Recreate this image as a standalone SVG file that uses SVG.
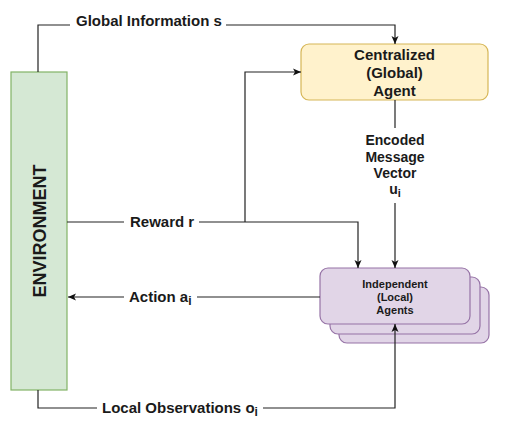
<svg xmlns="http://www.w3.org/2000/svg" width="508" height="423" viewBox="0 0 508 423">
<style>
.ln{fill:none;stroke:#222;stroke-width:1.2}
.t{font-family:"Liberation Sans",Arial,sans-serif;font-weight:bold;fill:#1a1a1a}
.lbl{font-size:15px}
.sm{font-size:14px;text-anchor:middle}
.xs{font-size:11px;text-anchor:middle}
.ag{fill:#e1d5e7;stroke:#9673a6;stroke-width:1.2}
</style>
<defs>
<marker id="ar" markerUnits="userSpaceOnUse" markerWidth="10" markerHeight="10" refX="8" refY="4" orient="auto">
<path d="M0,0.5 L8,4 L0,7.5 L2,4 Z" fill="#111"/>
</marker>
</defs>
<rect width="508" height="423" fill="#fff"/>
<g id="environment">
<rect x="11" y="72" width="56" height="318" fill="#d5e8d4" stroke="#82b366" stroke-width="1.2"/>
<text class="t" x="0" y="0" font-size="18" text-anchor="middle" transform="translate(45.5,231) rotate(-90)">ENVIRONMENT</text>
</g>
<g id="centralized">
<rect x="301" y="44" width="187" height="56" rx="8" fill="#fff2cc" stroke="#d6b656" stroke-width="1.2"/>
<text class="t" font-size="15" text-anchor="middle" x="394.5" y="60">Centralized</text>
<text class="t" font-size="15" text-anchor="middle" x="394.5" y="78">(Global)</text>
<text class="t" font-size="15" text-anchor="middle" x="394.5" y="96">Agent</text>
</g>
<g id="independent">
<rect class="ag" x="339" y="287" width="150" height="56" rx="8"/>
<rect class="ag" x="330" y="277" width="150" height="57" rx="8"/>
<rect class="ag" x="320" y="268" width="150" height="56" rx="8"/>
<text class="t xs" x="395" y="288">Independent</text>
<text class="t xs" x="395" y="301">(Local)</text>
<text class="t xs" x="395" y="314">Agents</text>
</g>
<g id="connectors">
<path class="ln" d="M38,72 V25 H70"/>
<path class="ln" d="M226,25 H395 V44" marker-end="url(#ar)"/>
<path class="ln" d="M67,222 H124"/>
<path class="ln" d="M199,222 H358 V268" marker-end="url(#ar)"/>
<path class="ln" d="M245,222 V72 H301" marker-end="url(#ar)"/>
<path class="ln" d="M395,100 V128"/>
<path class="ln" d="M395,203 V268" marker-end="url(#ar)"/>
<path class="ln" d="M320,297 H197"/>
<path class="ln" d="M124,297 H68" marker-end="url(#ar)"/>
<path class="ln" d="M38,390 V408 H97"/>
<path class="ln" d="M263,408 H395 V324" marker-end="url(#ar)"/>
</g>
<g id="labels">
<text class="t lbl" x="76" y="26">Global Information s</text>
<text class="t lbl" x="130" y="227">Reward r</text>
<text class="t lbl" x="129" y="302">Action a<tspan font-size="12" dy="3">i</tspan></text>
<text class="t lbl" x="102" y="413">Local Observations o<tspan font-size="12" dy="3">i</tspan></text>
<text class="t sm" x="395" y="145">Encoded</text>
<text class="t sm" x="395" y="162">Message</text>
<text class="t sm" x="395" y="178">Vector</text>
<text class="t sm" x="395" y="194">u<tspan font-size="11" dy="3">i</tspan></text>
</g>
</svg>
